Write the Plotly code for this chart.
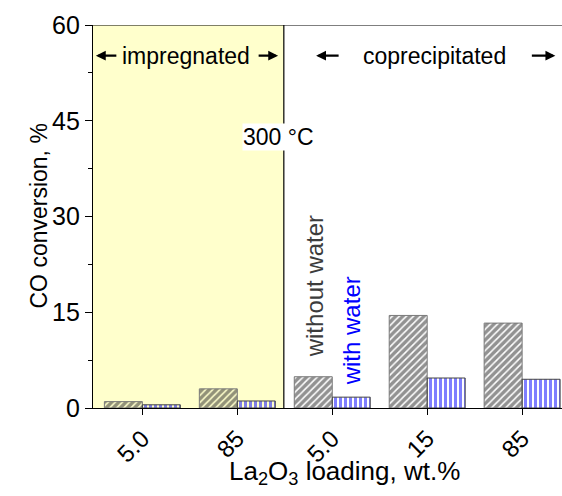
import plotly.graph_objects as go

# La2O3 loading per sample (impregnated: first two, coprecipitated: last three)
loadings = ["5.0", "85", "5.0", "15", "85"]
positions = [0, 1, 2, 3, 4]
conv_dry = [1.0, 3.0, 4.9, 14.5, 13.3]     # CO conversion without water, %
conv_wet = [0.5, 1.1, 1.7, 4.7, 4.5]       # CO conversion with water, %
y_ticks = [0, 15, 30, 45, 60]

FONT = "Liberation Sans, Arial, sans-serif"
PLOT_W = 562 - 93
PLOT_H = 408 - 25

fig = go.Figure()

fig.add_trace(go.Bar(
    x=positions, y=conv_dry, width=0.4, offset=-0.4,
    marker=dict(color="rgba(0,0,0,0)",
                line=dict(color="#7a7a7a", width=1),
                pattern=dict(shape="/", fgcolor="#262626", bgcolor="rgba(0,0,0,0)",
                             size=5, solidity=0.7)),
    showlegend=False,
))
fig.add_trace(go.Bar(
    x=positions, y=conv_wet, width=0.4, offset=0,
    marker=dict(color="rgba(0,0,0,0)",
                line=dict(color="#444444", width=1),
                pattern=dict(shape="|", fgcolor="#0000ff", bgcolor="rgba(0,0,0,0)",
                             size=5, solidity=0.6)),
    showlegend=False,
))

# shaded impregnated region
fig.add_shape(type="rect", xref="x", yref="y", x0=-0.52, x1=1.49, y0=0, y1=60,
              fillcolor="#ffffcc", line=dict(width=0), layer="below")
fig.add_shape(type="line", xref="x", yref="y", x0=1.49, x1=1.49, y0=0, y1=60,
              line=dict(color="black", width=1.2))
# top frame line
fig.add_shape(type="line", xref="paper", yref="y", x0=0, x1=1, y0=60, y1=60,
              line=dict(color="black", width=1.2))

ann_font = dict(family=FONT, size=23, color="black")
fig.add_annotation(x=0.46, y=55.2, text="impregnated", showarrow=False, font=ann_font)
fig.add_annotation(x=3.08, y=55.2, text="coprecipitated", showarrow=False, font=ann_font)

# region arrows: (head x, tail offset in px)
region_arrows = [(-0.49, 22), (1.43, -21), (1.83, 24), (4.35, -25)]
for hx, off in region_arrows:
    fig.add_annotation(x=hx, y=55.2, ax=off, ay=0, showarrow=True, text="",
                       arrowhead=2, arrowsize=0.9, arrowwidth=2.2, arrowcolor="black")

fig.add_annotation(x=1.434, y=42.4, text="300 \u00b0C", showarrow=False, font=ann_font,
                   bgcolor="white", borderpad=0)
fig.add_annotation(x=1.81, y=19.1, text="without water", showarrow=False, textangle=-90,
                   font=dict(family=FONT, size=24, color="#3c3c3c"))
fig.add_annotation(x=2.20, y=12.05, text="with water", showarrow=False, textangle=-90,
                   font=dict(family=FONT, size=24, color="#0000ff"))

# axis titles
fig.add_annotation(xref="paper", yref="y", x=-(93 - 38) / PLOT_W, y=30, xanchor="center",
                   text="CO conversion, %", showarrow=False, textangle=-90,
                   font=dict(family=FONT, size=23, color="black"))
fig.add_annotation(xref="paper", yref="paper", x=(344 - 93) / PLOT_W,
                   y=-(472 - 408) / PLOT_H, xanchor="center", yanchor="middle",
                   text="La<sub>2</sub>O<sub>3</sub> loading, wt.%", showarrow=False,
                   font=dict(family=FONT, size=26, color="black"))

fig.update_layout(
    width=562, height=496,
    margin=dict(l=93, r=0, t=25, b=88),
    paper_bgcolor="white", plot_bgcolor="white",
    barmode="overlay",
    font=dict(family=FONT, size=24, color="black"),
    xaxis=dict(
        range=[-0.52, 4.42], tickmode="array", tickvals=positions, ticktext=loadings,
        tickangle=-45, ticks="outside", ticklen=6, tickwidth=1.2, tickcolor="black",
        tickfont=dict(size=24),
        showline=True, linecolor="black", linewidth=1.2, showgrid=False, zeroline=False,
    ),
    yaxis=dict(
        range=[0, 60], tickmode="array", tickvals=y_ticks,
        ticks="outside", ticklen=7, tickwidth=1.2, tickcolor="black",
        tickfont=dict(size=25),
        minor=dict(dtick=7.5, ticks="outside", ticklen=4, tickcolor="black", tickwidth=1),
        showline=True, linecolor="black", linewidth=1.2, showgrid=False, zeroline=False,
    ),
)

fig.write_html("out.html")
